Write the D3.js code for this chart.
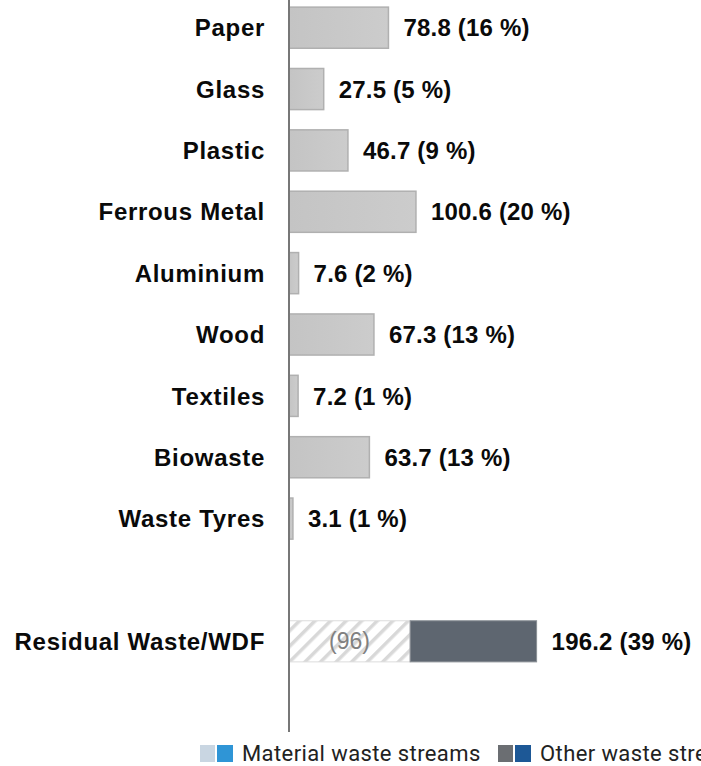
<!DOCTYPE html>
<html><head><meta charset="utf-8">
<script src="https://cdn.jsdelivr.net/npm/d3@7"></script>
<style>body{margin:0;background:#fff}svg{display:block}</style>
</head><body>
<svg id="c" width="701" height="766"></svg>
<script>
const categories = ["Paper","Glass","Plastic","Ferrous Metal","Aluminium","Wood","Textiles","Biowaste","Waste Tyres"];
const values = [78.8, 27.5, 46.7, 100.6, 7.6, 67.3, 7.2, 63.7, 3.1];
const shares = [16, 5, 9, 20, 2, 13, 1, 13, 1];
const residualCategory = "Residual Waste/WDF";
const residualValue = 196.2;
const residualShare = 39;
const residualMaterialPart = 96;
const legendLabels = ["Material waste streams", "Other waste streams"];

const svg = d3.select("#c");
const axisX = 289;
const x = d3.scaleLinear().domain([0, 200]).range([axisX, axisX + 252.4]);
const slots = [...categories, "__gap", residualCategory];
const y = d3.scaleBand().domain(slots).range([-3, 672]).paddingInner(0.33).paddingOuter(0.165);

const defs = svg.append("defs");
const pat = defs.append("pattern").attr("id","hatch").attr("patternUnits","userSpaceOnUse")
  .attr("width",11).attr("height",11).attr("patternTransform","rotate(45)");
pat.append("rect").attr("width",11).attr("height",11).attr("fill","#fff");
pat.append("rect").attr("width",3.5).attr("height",11).attr("fill","#d8d8d8");
const grad = defs.append("linearGradient").attr("id","g1").attr("x1",0).attr("x2",1).attr("y1",0).attr("y2",0);
grad.append("stop").attr("offset","0%").attr("stop-color","#c4c4c4");
grad.append("stop").attr("offset","100%").attr("stop-color","#cccccc");

const boldFont = "'Liberation Sans', Arial, sans-serif";
const data = categories.map((c,i)=>({c, v:values[i], s:shares[i]}));

svg.append("g").selectAll("rect").data(data).join("rect")
  .attr("x", x(0)).attr("y", d=>y(d.c))
  .attr("width", d=>x(d.v)-x(0)).attr("height", y.bandwidth())
  .attr("fill","url(#g1)").attr("stroke","#b0b0b0").attr("stroke-width",1.5);

svg.append("rect").attr("x", x(0)).attr("y", y(residualCategory))
  .attr("width", x(residualMaterialPart)-x(0)).attr("height", y.bandwidth())
  .attr("fill","url(#hatch)").attr("stroke","#dcdcdc").attr("stroke-width",1);
svg.append("rect").attr("x", x(residualMaterialPart)).attr("y", y(residualCategory))
  .attr("width", x(residualValue)-x(residualMaterialPart)).attr("height", y.bandwidth())
  .attr("fill","#5e6670").attr("stroke","#8a8f95").attr("stroke-width",1);
svg.append("text").attr("x", (x(0)+x(residualMaterialPart))/2).attr("y", y(residualCategory)+y.bandwidth()/2)
  .attr("dy","0.35em").attr("text-anchor","middle").attr("font-family",boldFont)
  .attr("font-size",23).attr("fill","#808080").text(`(${residualMaterialPart})`);

svg.append("line").attr("x1",axisX).attr("x2",axisX).attr("y1",0).attr("y2",732)
  .attr("stroke","#777").attr("stroke-width",2);

const allCats = [...data.map(d=>d.c), residualCategory];
svg.append("g").selectAll("text").data(allCats).join("text")
  .attr("x",265).attr("y", d=>y(d)+y.bandwidth()/2).attr("dy","0.36em")
  .attr("text-anchor","end").attr("font-family",boldFont).attr("font-weight","bold")
  .attr("font-size",24).attr("letter-spacing","0.7px").attr("fill","#0a0a0a").text(d=>d);

const valData = [...data, {c:residualCategory, v:residualValue, s:residualShare}];
svg.append("g").selectAll("text").data(valData).join("text")
  .attr("x", d=>x(d.v)+15).attr("y", d=>y(d.c)+y.bandwidth()/2).attr("dy","0.36em")
  .attr("font-family",boldFont).attr("font-weight","bold").attr("letter-spacing","0.2px")
  .attr("font-size",24).attr("fill","#0a0a0a").text(d=>`${d.v.toFixed(1)} (${d.s} %)`);

const leg = svg.append("g");
const legItems = [
  {x:200, c1:"#c9d6e2", c2:"#2f95d6", label:legendLabels[0]},
  {x:498, c1:"#6b6e72", c2:"#1d5896", label:legendLabels[1]}
];
legItems.forEach(it=>{
  leg.append("rect").attr("x",it.x).attr("y",745).attr("width",15).attr("height",17).attr("fill",it.c1);
  leg.append("rect").attr("x",it.x+17).attr("y",745).attr("width",16).attr("height",17).attr("fill",it.c2);
  leg.append("text").attr("x",it.x+42).attr("y",761).attr("font-family","Roboto, 'Liberation Sans', Arial, sans-serif")
    .attr("font-size",22).attr("letter-spacing","0.4px").attr("fill","#222").text(it.label);
});
</script>
</body></html>
